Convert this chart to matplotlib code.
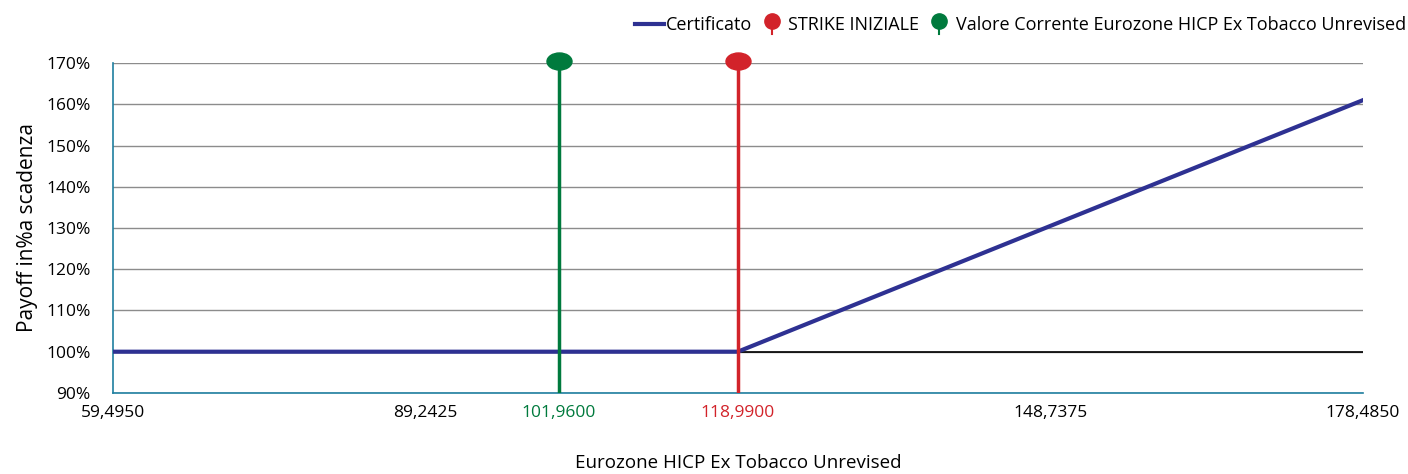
import matplotlib.pyplot as plt
from matplotlib.lines import Line2D
from matplotlib.legend_handler import HandlerBase
from matplotlib.path import Path

plt.rcParams['font.family'] = ['Open Sans', 'DejaVu Sans']

# payoff line
underlying = [59.495, 118.99, 178.485]
payoff = [100, 100, 161]

strike = 118.99
current = 101.96

xticks = [59.495, 89.2425, 101.96, 118.99, 148.7375, 178.485]
xlabels = ['59,4950', '89,2425', '101,9600', '118,9900', '148,7375', '178,4850']
yticks = [90, 100, 110, 120, 130, 140, 150, 160, 170]

blue = '#2e3192'
red = '#d2232a'
green = '#007a3d'
teal = '#1f7fa0'

# flattened circle for the pin heads
circ = Path.unit_circle()
ellipse = Path(circ.vertices * [1, 0.68], circ.codes)


class PinHandler(HandlerBase):
    def create_artists(self, legend, orig, xd, yd, w, h, fontsize, trans):
        c = orig.get_color()
        cx = xd + w / 2
        stem = Line2D([cx, cx], [yd - 0.3 * h, yd + 0.6 * h], color=c, lw=1.5, transform=trans)
        head = Line2D([cx], [yd + 0.75 * h], marker='o', ms=11, color=c, transform=trans)
        return [stem, head]


fig, ax = plt.subplots(figsize=(14.08, 4.74), dpi=100)
fig.subplots_adjust(left=0.080, right=0.968, top=0.867, bottom=0.171)

ax.set_xlim(underlying[0], underlying[-1])
ax.set_ylim(90, 170)
ax.set_yticks(yticks)
ax.set_yticklabels([f'{v}%' for v in yticks])
ax.set_xticks(xticks)
ax.set_xticklabels(xlabels)
for lbl, v in zip(ax.get_xticklabels(), xticks):
    if v == current:
        lbl.set_color(green)
    elif v == strike:
        lbl.set_color(red)
ax.tick_params(length=0, labelsize=12.5, pad=9)
ax.tick_params(axis='y', pad=16)

ax.grid(axis='y', color='#8c8c8c', lw=1)
ax.set_axisbelow(True)
for s in ['top', 'right']:
    ax.spines[s].set_visible(False)
for s in ['left', 'bottom']:
    ax.spines[s].set_color(teal)
    ax.spines[s].set_linewidth(1.2)

ax.axhline(100, color='black', lw=1.2, zorder=2)
ax.plot(underlying, payoff, color=blue, lw=3, zorder=4, label='Certificato')

ax.plot([strike, strike], [90, 170], color=red, lw=2.5, zorder=5)
ax.plot([strike], [170.5], marker=ellipse, color=red, ms=18, ls='', clip_on=False, zorder=6)
ax.plot([current, current], [90, 170], color=green, lw=2.5, zorder=5)
ax.plot([current], [170.5], marker=ellipse, color=green, ms=18, ls='', clip_on=False, zorder=6)

h_cert = Line2D([], [], color=blue, lw=3)
h_strike = Line2D([], [], color=red)
h_curr = Line2D([], [], color=green)
ax.legend([h_cert, h_strike, h_curr],
          ['Certificato', 'STRIKE INIZIALE', 'Valore Corrente Eurozone HICP Ex Tobacco Unrevised'],
          handler_map={h_strike: PinHandler(), h_curr: PinHandler()},
          loc='lower right', bbox_to_anchor=(1.04, 1.065), ncol=3, frameon=False,
          fontsize=13, handlelength=1.6, handletextpad=0.1, columnspacing=0.3,
          borderaxespad=0)

ax.set_xlabel('Eurozone HICP Ex Tobacco Unrevised', fontsize=13.5, va='center')
ax.xaxis.set_label_coords(0.5, -0.212)
ax.set_ylabel('Payoff in%a scadenza', fontsize=15, labelpad=6)

fig.savefig('out.png', dpi=100)
